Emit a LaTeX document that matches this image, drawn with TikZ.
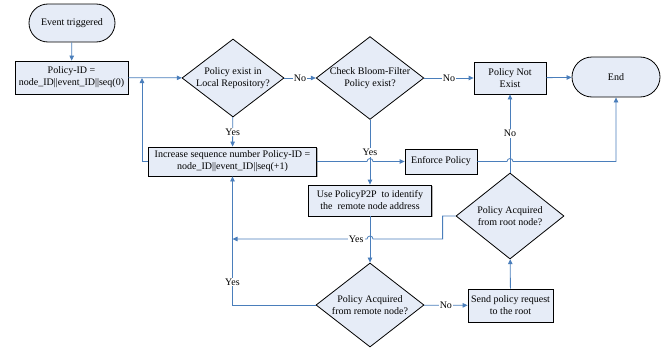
\documentclass[tikz,border=0pt]{standalone}
\usepackage{fontspec}
\setmainfont{Liberation Serif}
\usetikzlibrary{shapes.geometric,arrows.meta,shadows}
\definecolor{fillc}{HTML}{E6ECF7}
\definecolor{linec}{HTML}{4A7EBB}
\begin{document}
\begin{tikzpicture}[x=1pt,y=-1pt,
  base/.style={draw=black, line width=0.8pt, fill=fillc, align=center, font=\fontsize{10}{12}\selectfont, inner sep=0pt},
  box/.style={base, rectangle, drop shadow={shadow xshift=1pt, shadow yshift=-1pt, fill=gray, opacity=0.6}},
  term/.style={base, rectangle, rounded corners=#1},
  dia/.style={base, diamond, aspect=1.3},
  conn/.style={draw=linec, line width=0.8pt, -{Triangle[length=5pt,width=4.5pt]}},
  lab/.style={fill=white, inner sep=1pt, font=\fontsize{10}{12}\selectfont}
]
\useasboundingbox (0,0) rectangle (670,348);
\node[term=19pt, minimum width=86pt, minimum height=38pt] (start) at (72,23) {Event triggered};
\node[box, minimum width=113pt, minimum height=33pt] (pid) at (71.5,77.5) {Policy-ID =\\node\_ID||event\_ID||seq(0)};
\node[dia, minimum width=102pt, minimum height=78pt] (d1) at (233,78) {Policy exist in\\Local Repository?};
\node[dia, minimum width=106pt, minimum height=82pt] (d2) at (370,78) {Check Bloom-Filter\\Policy exist?};
\node[box, minimum width=72pt, minimum height=32pt] (nex) at (510,78) {Policy Not\\Exist};
\node[term=20pt, minimum width=88pt, minimum height=40pt] (end) at (616,77) {End};
\node[box, minimum width=168pt, minimum height=29pt] (inc) at (232.5,161.5) {Increase sequence number Policy-ID =\\node\_ID||event\_ID||seq(+1)};
\node[box, minimum width=72pt, minimum height=25pt] (enf) at (441,161.5) {Enforce Policy};
\node[box, minimum width=123pt, minimum height=31pt] (p2p) at (370,200.5) {Use PolicyP2P~ to identify\\the~ remote node address};
\node[dia, aspect=1.26, minimum width=108pt, minimum height=86pt] (root) at (510,216) {Policy Acquired\\from root node?};
\node[dia, aspect=1.26, minimum width=108pt, minimum height=84pt] (rem) at (370,305) {Policy Acquired\\from remote node?};
\node[box, minimum width=85pt, minimum height=33pt] (send) at (510.5,305.5) {Send policy request\\to the root};

\coordinate (j1) at (142,78);
\coordinate (j2) at (232.5,239);

\draw[conn] (start) -- (pid);
\draw[conn] (pid) -- (d1);
\draw[conn] (d1) -- node[lab]{No} (d2);
\draw[conn] (d2) -- node[lab]{No} (nex);
\draw[conn] (nex) -- (end);
\draw[conn] (d1) -- node[lab]{Yes} (inc);
\draw[conn] (inc.west) -| (j1);
\draw[conn] (inc.east) -- ([xshift=-3pt]inc.east -| d2.south) arc[start angle=180,end angle=0,radius=3pt] -- (enf.west);
\draw[conn] (d2) -- node[lab]{Yes} (p2p);
\draw[conn] (enf.east) -- ([xshift=-3pt]enf.east -| root.north) arc[start angle=180,end angle=0,radius=3pt] -| (end.south);
\draw[conn] (root) -- node[lab]{No} (nex);
\draw[conn] (root.west) -- ++(-13,0) -- ++(0,23) -- ([xshift=3pt]rem.north |- j2) arc[start angle=0,end angle=180,radius=3pt] -- node[lab,pos=0.08]{Yes} (j2);
\draw[conn] (p2p) -- (rem);
\draw[conn] (rem.west) -| node[lab,pos=0.59]{Yes} (inc.south);
\draw[conn] (rem) -- node[lab]{No} (send);
\draw[conn] (send) -- (root);
\end{tikzpicture}
\end{document}
